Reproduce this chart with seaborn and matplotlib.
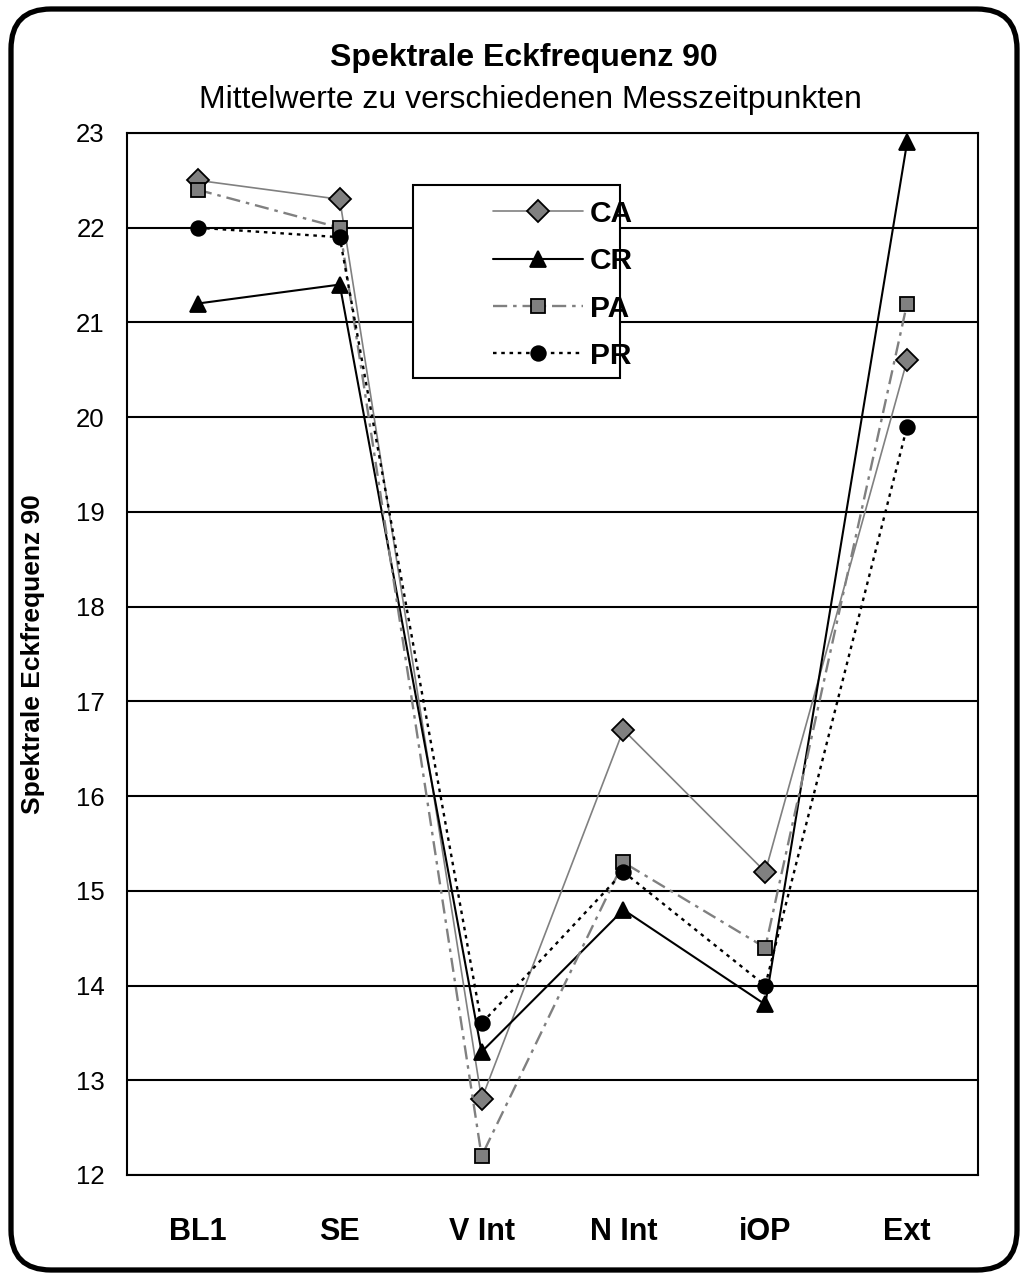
import pandas as pd
import numpy as np
import matplotlib
matplotlib.use("Agg")
import matplotlib.pyplot as plt
import seaborn as sns
from matplotlib.patches import FancyBboxPatch, Rectangle

# Daten
zeitpunkte = ["BL1", "SE", "V Int", "N Int", "iOP", "Ext"]
ca = [22.5, 22.3, 12.8, 16.7, 15.2, 20.6]
cr = [21.2, 21.4, 13.3, 14.8, 13.8, 22.9]
pa = [22.4, 22.0, 12.2, 15.3, 14.4, 21.2]
pr = [22.0, 21.9, 13.6, 15.2, 14.0, 19.9]
gruppen = ["CA", "CR", "PA", "PR"]

df = pd.DataFrame({"Zeitpunkt": zeitpunkte * 4,
                   "Wert": ca + cr + pa + pr,
                   "Gruppe": np.repeat(gruppen, len(zeitpunkte))})

sns.set_style("white")
plt.rcParams["font.family"] = ["Liberation Sans", "DejaVu Sans"]
plt.rcParams["text.color"] = "black"
plt.rcParams["xtick.color"] = "black"
plt.rcParams["ytick.color"] = "black"
plt.rcParams["axes.labelcolor"] = "black"

stile = {
    "CA": dict(color="#808080", marker="D", markersize=11, linewidth=1.2, linestyle="-", markerfacecolor="#808080"),
    "CR": dict(color="black", marker="^", markersize=12, linewidth=1.5, linestyle="-", markerfacecolor="black"),
    "PA": dict(color="#808080", marker="s", markersize=10, linewidth=1.7, linestyle=(0, (6, 2.5, 1.5, 2.5)), markerfacecolor="#808080"),
    "PR": dict(color="black", marker="o", markersize=10.5, linewidth=1.7, linestyle=(0, (1.5, 2)), markerfacecolor="black"),
}

fig = plt.figure(figsize=(10.22, 12.73), dpi=100)
ax = fig.add_axes([127 / 1022, 1 - 1175 / 1273, 851 / 1022, 1042 / 1273])

for g in gruppen:
    sub = df[df["Gruppe"] == g]
    sns.lineplot(data=sub, x="Zeitpunkt", y="Wert", ax=ax, sort=False, label=g,
                 markeredgecolor="black", markeredgewidth=1.3, legend=False, **stile[g])

ax.set_xlim(-0.5, 5.5)
ax.set_ylim(12, 23)
ax.set_yticks(range(12, 24))
ax.set_xticks(range(6))
ax.set_xticklabels(zeitpunkte, fontsize=22, fontweight="bold")
ax.set_xticks(np.arange(-0.5, 6, 1), minor=True)
ax.tick_params(axis="x", which="major", length=0, pad=30)
ax.tick_params(axis="x", which="minor", length=7, width=1.5, direction="out")
ax.tick_params(axis="y", length=7, width=1.5, direction="out", pad=9, labelsize=18.5)
ax.yaxis.grid(True, color="black", linewidth=1.5)
ax.set_axisbelow(True)
for s in ax.spines.values():
    s.set_color("black")
    s.set_linewidth(1.5)

ax.set_xlabel("")
ax.set_ylabel("Spektrale Eckfrequenz 90", fontsize=19, fontweight="bold")
ax.yaxis.set_label_coords(-0.096, 0.5)

fig.text(524 / 1022, 1 - 58 / 1273, "Spektrale Eckfrequenz 90", ha="center", va="center",
         fontsize=23, fontweight="bold")
fig.text(530 / 1022, 1 - 100 / 1273, "Mittelwerte zu verschiedenen Messzeitpunkten", ha="center",
         va="center", fontsize=23)

# Legendenrahmen separat, damit links Platz bleibt wie im Original
ax.add_patch(Rectangle((0.336, 0.765), 0.243, 0.185, transform=ax.transAxes,
                       facecolor="white", edgecolor="black", linewidth=1.5, zorder=4))
leg = ax.legend(loc="upper left", bbox_to_anchor=(0.430, 0.936), frameon=False,
                handlelength=3.0, handletextpad=0.25, labelspacing=0.65, borderpad=0,
                borderaxespad=0, prop={"weight": "bold", "size": 21.5})
leg.set_zorder(5)

rahmen = FancyBboxPatch((11, 3), 1006, 1261, boxstyle="round,pad=0,rounding_size=40",
                        transform=None, fill=False, edgecolor="black", linewidth=3.8)
fig.patches.append(rahmen)

fig.savefig("out.png", dpi=100)
